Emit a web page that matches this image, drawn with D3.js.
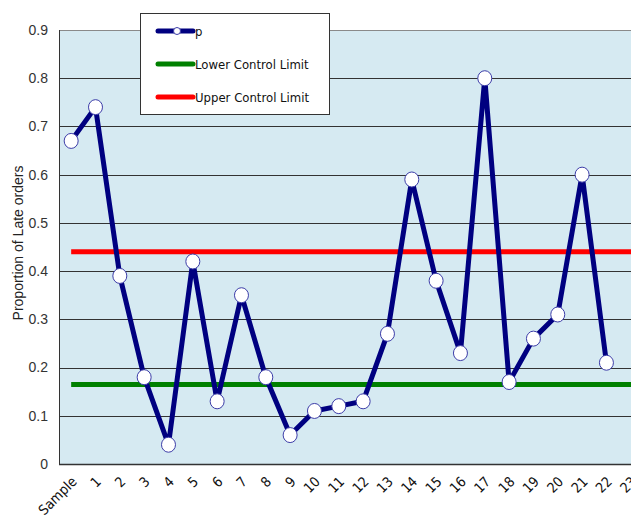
<!DOCTYPE html>
<html>
<head>
<meta charset="utf-8">
<script src="https://cdn.jsdelivr.net/npm/d3@7"></script>
<style>
  body { margin: 0; background: #fff; }
</style>
</head>
<body>
<div id="chart"></div>
<script>
const width = 631, height = 518;
const margin = {left: 59, top: 30, bottom: 54};

// data
const categories = ["Sample"].concat(d3.range(1, 24).map(String));
const pValues = [0.67, 0.74, 0.39, 0.18, 0.04, 0.42, 0.13, 0.35, 0.18, 0.06, 0.11, 0.12,
                 0.13, 0.27, 0.59, 0.38, 0.23, 0.80, 0.17, 0.26, 0.31, 0.60, 0.21];
const lcl = 0.165;
const ucl = 0.44;
const yTicks = [0, 0.1, 0.2, 0.3, 0.4, 0.5, 0.6, 0.7, 0.8, 0.9];
const legendLabels = ["p", "Lower Control Limit", "Upper Control Limit"];
const legendColors = ["#000080", "#008000", "#ff0000"];

const svg = d3.select("#chart").append("svg")
    .attr("width", width)
    .attr("height", height);

const x = d3.scaleBand()
    .domain(categories)
    .range([margin.left, margin.left + 24.33 * categories.length]);
const y = d3.scaleLinear()
    .domain([0, 0.9])
    .range([height - margin.bottom, margin.top]);
const cx = d => x(d) + x.bandwidth() / 2;

// plot background
svg.append("rect")
    .attr("x", margin.left)
    .attr("y", y(0.9))
    .attr("width", width - margin.left + 20)
    .attr("height", y(0) - y(0.9))
    .attr("fill", "#d6eaf2");

// gridlines
svg.append("g").selectAll("line")
    .data(yTicks)
    .enter().append("line")
    .attr("x1", margin.left).attr("x2", width)
    .attr("y1", d => Math.round(y(d)) + 0.5).attr("y2", d => Math.round(y(d)) + 0.5)
    .attr("stroke", d => d === 0.9 ? "#8a8a8a" : "#333")
    .attr("stroke-width", d => d === 0 ? 1.5 : 1);

// left axis line
svg.append("line")
    .attr("x1", margin.left + 0.5).attr("x2", margin.left + 0.5)
    .attr("y1", y(0.9)).attr("y2", y(0))
    .attr("stroke", "#333");

// y tick labels
svg.append("g").selectAll("text")
    .data(yTicks)
    .enter().append("text")
    .attr("x", 48)
    .attr("y", d => y(d))
    .attr("dy", "0.35em")
    .attr("text-anchor", "end")
    .attr("font-family", "Liberation Sans, Arial, sans-serif")
    .attr("font-size", 14)
    .attr("fill", "#333")
    .text(d => d);

// y title
svg.append("text")
    .attr("transform", "translate(23,243) rotate(-90)")
    .attr("text-anchor", "middle")
    .attr("font-family", "Liberation Sans, Arial, sans-serif")
    .attr("font-size", 14)
    .attr("fill", "#222")
    .text("Proportion of Late orders");

// x tick labels
svg.append("g").selectAll("text")
    .data(categories)
    .enter().append("text")
    .attr("transform", d => "translate(" + (cx(d) + 3) + "," + (y(0) + 15) + ") rotate(-45)")
    .attr("text-anchor", "end")
    .attr("dy", "0.35em")
    .attr("font-family", "DejaVu Sans Condensed, DejaVu Sans, sans-serif")
    .attr("font-size", 14)
    .attr("fill", "#111")
    .text(d => d);

// control limits
[[lcl, legendColors[1]], [ucl, legendColors[2]]].forEach(function(c) {
    svg.append("line")
        .attr("x1", cx(categories[0])).attr("x2", width)
        .attr("y1", y(c[0])).attr("y2", y(c[0]))
        .attr("stroke", c[1])
        .attr("stroke-width", 5);
});

// p series
const line = d3.line()
    .x((d, i) => cx(categories[i]))
    .y(d => y(d));
svg.append("path")
    .datum(pValues)
    .attr("d", line)
    .attr("fill", "none")
    .attr("stroke", legendColors[0])
    .attr("stroke-width", 5)
    .attr("stroke-linejoin", "round");

svg.append("g").selectAll("ellipse")
    .data(pValues)
    .enter().append("ellipse")
    .attr("cx", (d, i) => cx(categories[i]))
    .attr("cy", d => y(d))
    .attr("rx", 7)
    .attr("ry", 7.5)
    .attr("fill", "#fff")
    .attr("stroke", "#3c3ca8")
    .attr("stroke-width", 1);

// legend
const legend = svg.append("g");
legend.append("rect")
    .attr("x", 140.5).attr("y", 13.5)
    .attr("width", 189).attr("height", 101)
    .attr("fill", "#fff")
    .attr("stroke", "#333");
const rowY = [31, 64, 97];
legendLabels.forEach(function(lab, i) {
    legend.append("line")
        .attr("x1", 158).attr("x2", 193)
        .attr("y1", rowY[i]).attr("y2", rowY[i])
        .attr("stroke", legendColors[i])
        .attr("stroke-width", 5)
        .attr("stroke-linecap", "round");
    if (i === 0) {
        legend.append("circle")
            .attr("cx", 177).attr("cy", rowY[i]).attr("r", 3.5)
            .attr("fill", "#fff").attr("stroke", "#3c3ca8");
    }
    legend.append("text")
        .attr("x", 195).attr("y", rowY[i])
        .attr("dy", "0.35em")
        .attr("font-family", "DejaVu Sans Condensed, DejaVu Sans, sans-serif")
        .attr("font-size", 13)
        .attr("fill", "#111")
        .text(lab);
});
</script>
</body>
</html>
